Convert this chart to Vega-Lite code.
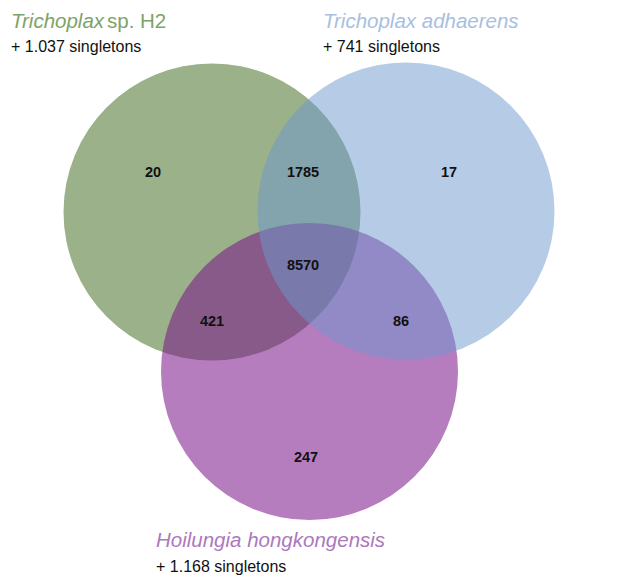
{
  "$schema": "https://vega.github.io/schema/vega-lite/v6.json",
  "width": 618,
  "height": 577,
  "autosize": {"type": "none"},
  "padding": 0,
  "background": "white",
  "config": {"view": {"stroke": null}},
  "datasets": {
    "circles": [
      {"set": "Trichoplax sp. H2", "x": 212, "y": 212},
      {"set": "Hoilungia hongkongensis", "x": 309.5, "y": 371.5},
      {"set": "Trichoplax adhaerens", "x": 406, "y": 211}
    ],
    "counts": [
      {"n": "20", "x": 153, "y": 173},
      {"n": "1785", "x": 303, "y": 173},
      {"n": "17", "x": 449, "y": 173},
      {"n": "8570", "x": 303, "y": 266},
      {"n": "421", "x": 212, "y": 322},
      {"n": "86", "x": 401, "y": 322},
      {"n": "247", "x": 306, "y": 458}
    ],
    "titles": [
      {"set": "Trichoplax sp. H2", "part": "italic", "text": "Trichoplax", "x": 11, "y": 28},
      {"set": "Trichoplax sp. H2", "part": "roman", "text": "sp. H2", "x": 107, "y": 28},
      {"set": "Trichoplax adhaerens", "part": "italic", "text": "Trichoplax adhaerens", "x": 323, "y": 28},
      {"set": "Hoilungia hongkongensis", "part": "italic", "text": "Hoilungia hongkongensis", "x": 156, "y": 547}
    ],
    "singletons": [
      {"text": "+ 1.037 singletons", "x": 11, "y": 52},
      {"text": "+ 741 singletons", "x": 323, "y": 52},
      {"text": "+ 1.168 singletons", "x": 156, "y": 572}
    ]
  },
  "resolve": {"scale": {"color": "independent"}},
  "encoding": {
    "x": {"field": "x", "type": "quantitative", "scale": {"domain": [0, 618], "nice": false, "zero": false}, "axis": null},
    "y": {"field": "y", "type": "quantitative", "scale": {"domain": [0, 577], "nice": false, "zero": false, "reverse": true}, "axis": null}
  },
  "layer": [
    {
      "data": {"name": "circles"},
      "transform": [{"filter": "datum.set === 'Trichoplax sp. H2'"}],
      "mark": {"type": "point", "shape": "circle", "filled": true, "size": 88209, "strokeWidth": 0, "color": "#9AB18A", "opacity": 1}
    },
    {
      "data": {"name": "circles"},
      "transform": [{"filter": "datum.set === 'Hoilungia hongkongensis'"}],
      "mark": {"type": "point", "shape": "circle", "filled": true, "size": 88209, "strokeWidth": 0, "color": "#7A1389", "opacity": 0.55}
    },
    {
      "data": {"name": "circles"},
      "transform": [{"filter": "datum.set === 'Trichoplax adhaerens'"}],
      "mark": {"type": "point", "shape": "circle", "filled": true, "size": 88209, "strokeWidth": 0, "color": "#6B97CD", "opacity": 0.5}
    },
    {
      "data": {"name": "counts"},
      "mark": {"type": "text", "font": "Liberation Sans", "fontWeight": "bold", "fontSize": 14.5, "align": "center", "baseline": "middle", "color": "#111111"},
      "encoding": {
        "text": {"field": "n", "type": "nominal"}
      }
    },
    {
      "data": {"name": "titles"},
      "transform": [{"filter": "datum.part === 'italic'"}],
      "mark": {"type": "text", "font": "Liberation Sans", "fontStyle": "italic", "fontSize": 20.5, "align": "left", "baseline": "alphabetic"},
      "encoding": {
        "text": {"field": "text", "type": "nominal"},
        "color": {"field": "set", "type": "nominal", "legend": null,
          "scale": {"domain": ["Trichoplax sp. H2", "Hoilungia hongkongensis", "Trichoplax adhaerens"], "range": ["#7DA369", "#AD78BE", "#A7C0E2"]}}
      }
    },
    {
      "data": {"name": "titles"},
      "transform": [{"filter": "datum.part === 'roman'"}],
      "mark": {"type": "text", "font": "Liberation Sans", "fontSize": 20.5, "align": "left", "baseline": "alphabetic", "color": "#7DA369"},
      "encoding": {
        "text": {"field": "text", "type": "nominal"}
      }
    },
    {
      "data": {"name": "singletons"},
      "mark": {"type": "text", "font": "Liberation Sans", "fontSize": 16, "align": "left", "baseline": "alphabetic", "color": "#111111"},
      "encoding": {
        "text": {"field": "text", "type": "nominal"}
      }
    }
  ]
}
